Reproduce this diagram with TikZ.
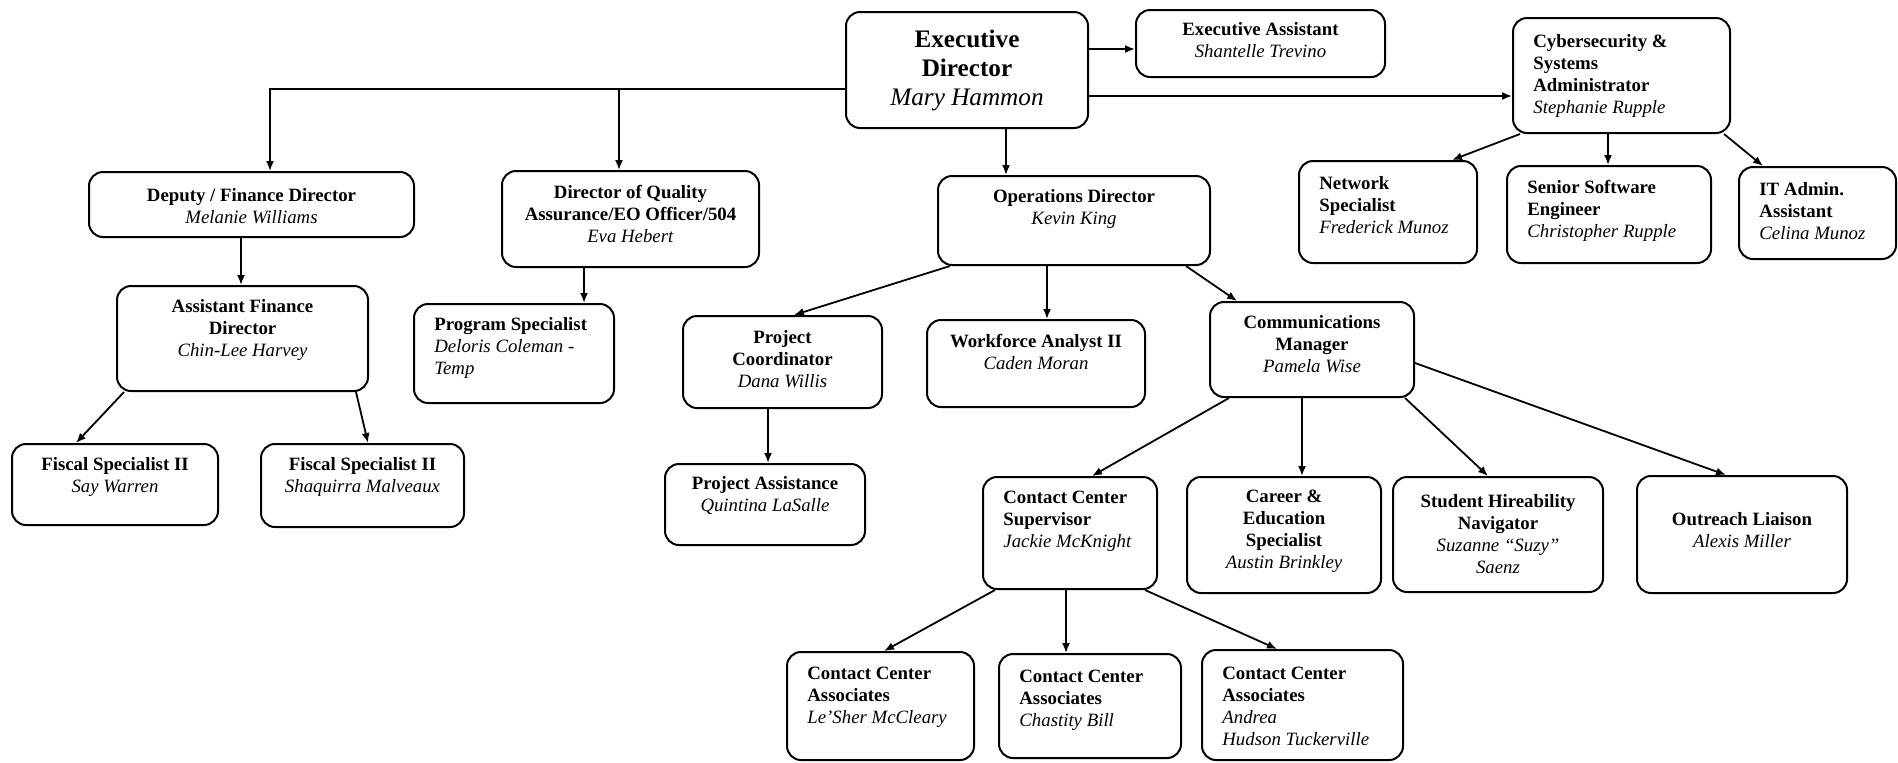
\documentclass[tikz,border=0pt]{standalone}
\usepackage{fontspec}
\setmainfont{Liberation Serif}
\usetikzlibrary{arrows.meta,fit,calc}
\tikzset{
  box/.style={draw, rounded corners=7pt, line width=1pt, inner sep=0pt},
  txt/.style={inner sep=0pt, font=\fontsize{9.4}{11}\selectfont},
  arr/.style={line width=0.9pt, -{Latex[length=5pt,width=4pt]}},
}
% #1 dy, #2 name, #3 left, #4 top, #5 right, #6 bottom, #7 text
\newcommand\cbox[7][0]{%
  \node[box, fit={(#3,#4) (#5,#6)}] (#2) {};
  \node[txt, align=center] (#2-t) at ($(#2.center)+(0,#1)$) {#7};}
\newcommand\lbox[7][0]{%
  \node[box, fit={(#3,#4) (#5,#6)}] (#2) {};
  \node[txt, align=left, anchor=west] (#2-t) at ($(#2.west)+(21,#1)$) {#7};}
\begin{document}
\begin{tikzpicture}[x=0.5pt,y=-0.5pt]
\useasboundingbox (0,0) rectangle (1898,762);

% top
\node[box, fit={(846,12) (1088,128)}] (exec) {};
\node[txt, align=center, font=\fontsize{12.6}{14.5}\selectfont] (exec-t) at (exec.center)
  {\textbf{Executive}\\\textbf{Director}\\\textit{Mary Hammon}};
\cbox[-3]{ea}{1136}{10}{1385}{77}{\textbf{Executive Assistant}\\\textit{Shantelle Trevino}}
\lbox{cyber}{1513}{18}{1730}{133}{\textbf{Cybersecurity \&}\\\textbf{Systems}\\\textbf{Administrator}\\\textit{Stephanie Rupple}}

% second row
\cbox[2]{dep}{89}{172}{414}{237}{\textbf{Deputy / Finance Director}\\\textit{Melanie Williams}}
\cbox[-5]{dqa}{502}{171}{759}{267}{\textbf{Director of Quality}\\\textbf{Assurance/EO Officer/504}\\\textit{Eva Hebert}}
\cbox[-12]{ops}{938}{176}{1210}{265}{\textbf{Operations Director}\\\textit{Kevin King}}
\lbox[-7]{net}{1299}{161}{1477}{263}{\textbf{Network}\\\textbf{Specialist}\\\textit{Frederick Munoz}}
\lbox[-4]{sse}{1507}{166}{1711}{263}{\textbf{Senior Software}\\\textbf{Engineer}\\\textit{Christopher Rupple}}
\lbox[-2]{it}{1739}{167}{1896}{259}{\textbf{IT Admin.}\\\textbf{Assistant}\\\textit{Celina Munoz}}

% third row
\cbox[-9]{afd}{117}{286}{368}{391}{\textbf{Assistant Finance}\\\textbf{Director}\\\textit{Chin-Lee Harvey}}
\lbox[-6]{ps}{414}{304}{614}{403}{\textbf{Program Specialist}\\\textit{Deloris Coleman -}\\\textit{Temp}}
\cbox[-3]{pc}{683}{316}{882}{408}{\textbf{Project}\\\textbf{Coordinator}\\\textit{Dana Willis}}
\cbox[-12]{wf}{927}{320}{1145}{407}{\textbf{Workforce Analyst II}\\\textit{Caden Moran}}
\cbox[-5]{comm}{1210}{302}{1414}{397}{\textbf{Communications}\\\textbf{Manager}\\\textit{Pamela Wise}}

% fourth row
\cbox[-8]{f1}{12}{444}{218}{525}{\textbf{Fiscal Specialist II}\\\textit{Say Warren}}
\cbox[-9]{f2}{261}{444}{464}{527}{\textbf{Fiscal Specialist II}\\\textit{Shaquirra Malveaux}}
\cbox[-9]{pa}{665}{464}{865}{545}{\textbf{Project Assistance}\\\textit{Quintina LaSalle}}
\lbox[-12]{ccs}{983}{477}{1157}{589}{\textbf{Contact Center}\\\textbf{Supervisor}\\\textit{Jackie McKnight}}
\cbox[-4]{career}{1187}{477}{1381}{593}{\textbf{Career \&}\\\textbf{Education}\\\textbf{Specialist}\\\textit{Austin Brinkley}}
\cbox{student}{1393}{477}{1603}{592}{\textbf{Student Hireability}\\\textbf{Navigator}\\\textit{Suzanne “Suzy”}\\\textit{Saenz}}
\cbox[-4]{outreach}{1637}{476}{1847}{593}{\textbf{Outreach Liaison}\\\textit{Alexis Miller}}

% bottom row
\lbox[-9]{cca1}{787}{652}{974}{760}{\textbf{Contact Center}\\\textbf{Associates}\\\textit{Le'Sher McCleary}}
\lbox[-6]{cca2}{999}{654}{1181}{758}{\textbf{Contact Center}\\\textbf{Associates}\\\textit{Chastity Bill}}
\lbox[1]{cca3}{1202}{650}{1403}{760}{\textbf{Contact Center}\\\textbf{Associates}\\\textit{Andrea}\\\textit{Hudson Tuckerville}}

% connectors
\coordinate (j1) at (270,89);
\coordinate (j2) at (619,89);
\draw[arr] (exec.west |- j1) -- (j1) -- (j1 |- dep.north);
\draw[arr] (j2) -- (j2 |- dqa.north);
\draw[arr] (exec.east |- 0,49) -- (ea.west |- 0,49);
\draw[arr] (exec.east |- 0,96) -- (cyber.west |- 0,96);
\draw[arr] (exec.south -| 1006,0) -- (ops.north -| 1006,0);
\draw[arr] (dep.south -| 241,0) -- (afd.north -| 241,0);
\draw[arr] (dqa.south -| 584,0) -- (ps.north -| 584,0);
\draw[arr] (afd.south -| 124,0) -- (f1.north -| 76,0);
\draw[arr] (afd.south -| 356,0) -- (f2.north -| 368,0);
\draw[arr] (ops.south -| 950,0) -- (pc.north -| 794,0);
\draw[arr] (ops.south -| 1047,0) -- (wf.north -| 1047,0);
\draw[arr] (ops.south -| 1186,0) -- (comm.north -| 1237,0);
\draw[arr] (pc.south -| 768,0) -- (pa.north -| 768,0);
\draw[arr] (cyber.south -| 1520,0) -- (net.north -| 1452,0);
\draw[arr] (cyber.south -| 1608,0) -- (sse.north -| 1608,0);
\draw[arr] (cyber.south -| 1724,0) -- (it.north -| 1763,0);
\draw[arr] (comm.south -| 1229,0) -- (ccs.north -| 1092,0);
\draw[arr] (comm.south -| 1302,0) -- (career.north -| 1302,0);
\draw[arr] (comm.south -| 1405,0) -- (student.north -| 1488,0);
\draw[arr] (comm.east |- 0,363) -- (outreach.north -| 1726,0);
\draw[arr] (ccs.south -| 995,0) -- (cca1.north -| 884,0);
\draw[arr] (ccs.south -| 1066,0) -- (cca2.north -| 1066,0);
\draw[arr] (ccs.south -| 1145,0) -- (cca3.north -| 1277,0);
\end{tikzpicture}
\end{document}
